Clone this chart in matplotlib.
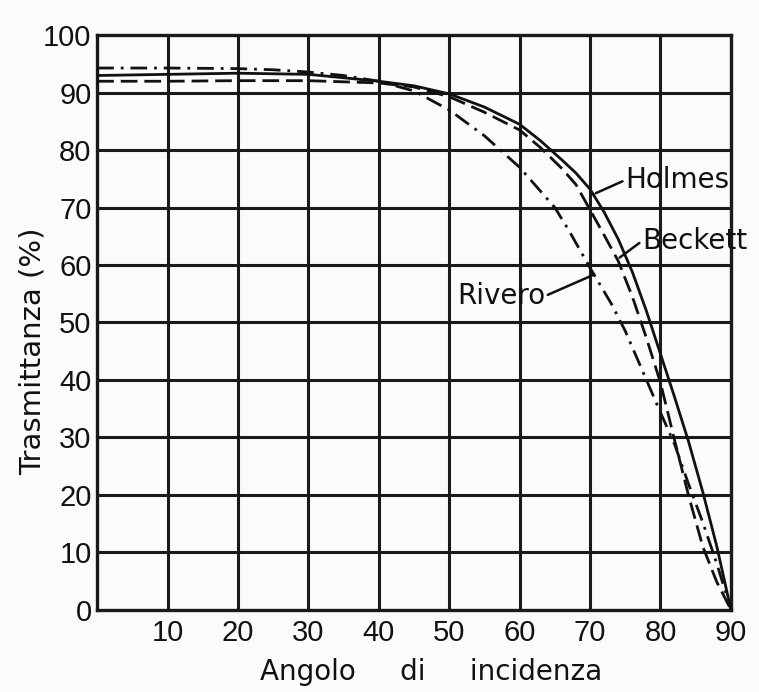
import matplotlib
matplotlib.use("Agg")
import matplotlib.pyplot as plt

# ---- data ----
holmes_x = [0, 10, 20, 30, 40, 45, 50, 55, 60, 63, 66, 68, 70, 72, 74, 76, 78, 80, 82, 84, 86, 88, 90]
holmes_y = [93.0, 93.2, 93.4, 93.2, 92.0, 91.2, 89.8, 87.5, 84.5, 81.6, 78.3, 76.0, 73.2, 69.2,
            64.5, 58.8, 52.0, 44.5, 37.0, 29.2, 20.5, 11.0, 0.0]

beckett_x = [0, 10, 20, 30, 40, 45, 50, 55, 60, 63, 66, 68, 70, 72, 74, 76, 78, 80, 82, 84, 86, 88, 90]
beckett_y = [92.0, 92.0, 92.1, 92.1, 91.7, 91.0, 89.3, 86.6, 83.5, 80.4, 76.8, 74.0, 69.6, 65.2,
             60.7, 54.5, 47.3, 39.5, 29.5, 19.8, 11.0, 4.8, 0.0]

rivero_x = [0, 10, 20, 25, 30, 35, 40, 45, 50, 55, 60, 65, 67, 70, 73, 75, 78, 80, 82, 84, 86, 88, 90]
rivero_y = [94.3, 94.3, 94.2, 94.0, 93.6, 93.0, 92.0, 90.3, 87.0, 82.5, 77.0, 70.0, 66.0, 59.5,
            53.3, 48.5, 40.0, 34.3, 28.8, 21.8, 15.2, 8.0, 0.0]

x_ticks = [10, 20, 30, 40, 50, 60, 70, 80, 90]
y_ticks = [0, 10, 20, 30, 40, 50, 60, 70, 80, 90, 100]

tick_font = ['Liberation Sans', 'DejaVu Sans']
text_font = ['DejaVu Sans']
ink = '#111111'

fig = plt.figure(figsize=(7.59, 6.92), dpi=100)
fig.patch.set_facecolor('#fbfbfb')
ax = fig.add_axes([0.128, 0.119, 0.835, 0.830])
ax.set_facecolor('#fbfbfb')

ax.set_xlim(0, 90)
ax.set_ylim(0, 100)

# grid
for gx in range(10, 90, 10):
    ax.axvline(gx, color='#1a1a1a', lw=2.2, zorder=1)
for gy in range(10, 100, 10):
    ax.axhline(gy, color='#1a1a1a', lw=2.2, zorder=1)
for s in ax.spines.values():
    s.set_linewidth(2.4)
    s.set_color('#1a1a1a')

ax.plot(holmes_x, holmes_y, color=ink, lw=2.0, ls='-', zorder=3)
ax.plot(beckett_x, beckett_y, color=ink, lw=2.0, ls=(0, (6, 2.5)), zorder=3)
ax.plot(rivero_x, rivero_y, color=ink, lw=2.0, ls=(0, (6, 2.5, 1, 2.5)), zorder=3)

ax.set_xticks(x_ticks)
ax.set_yticks(y_ticks)
ax.set_xticklabels([str(v) for v in x_ticks], family=tick_font, fontsize=21, color=ink)
ax.set_yticklabels([str(v) for v in y_ticks], family=tick_font, fontsize=21, color=ink)
ax.tick_params(length=0, pad=4)
ax.tick_params(axis='x', pad=7)

ax.set_xlabel('Angolo     di     incidenza', family=text_font, fontsize=20, color=ink)
ax.xaxis.set_label_coords(0.527, -0.085)
ax.set_ylabel('Trasmittanza (%)', family=text_font, fontsize=21, color=ink)
ax.yaxis.set_label_coords(-0.08, 0.45)

ann = dict(arrowstyle='-', color=ink, lw=1.8, shrinkA=0, shrinkB=0)
ax.annotate('Holmes', xy=(70.8, 72.5), xytext=(75.0, 74.8), ha='left', va='center',
            family=text_font, fontsize=20, color=ink,
            arrowprops=dict(ann, relpos=(0, 0.5)), annotation_clip=False)
ax.annotate('Beckett', xy=(74.2, 61.3), xytext=(77.4, 64.2), ha='left', va='center',
            family=text_font, fontsize=20, color=ink,
            arrowprops=dict(ann, relpos=(0, 0.5)), annotation_clip=False)
ax.annotate('Rivero', xy=(70.5, 58.3), xytext=(63.6, 54.6), ha='right', va='center',
            family=text_font, fontsize=20, color=ink,
            arrowprops=dict(ann, relpos=(1, 0.5)), annotation_clip=False)

fig.savefig('out.png', dpi=100, facecolor=fig.get_facecolor())
